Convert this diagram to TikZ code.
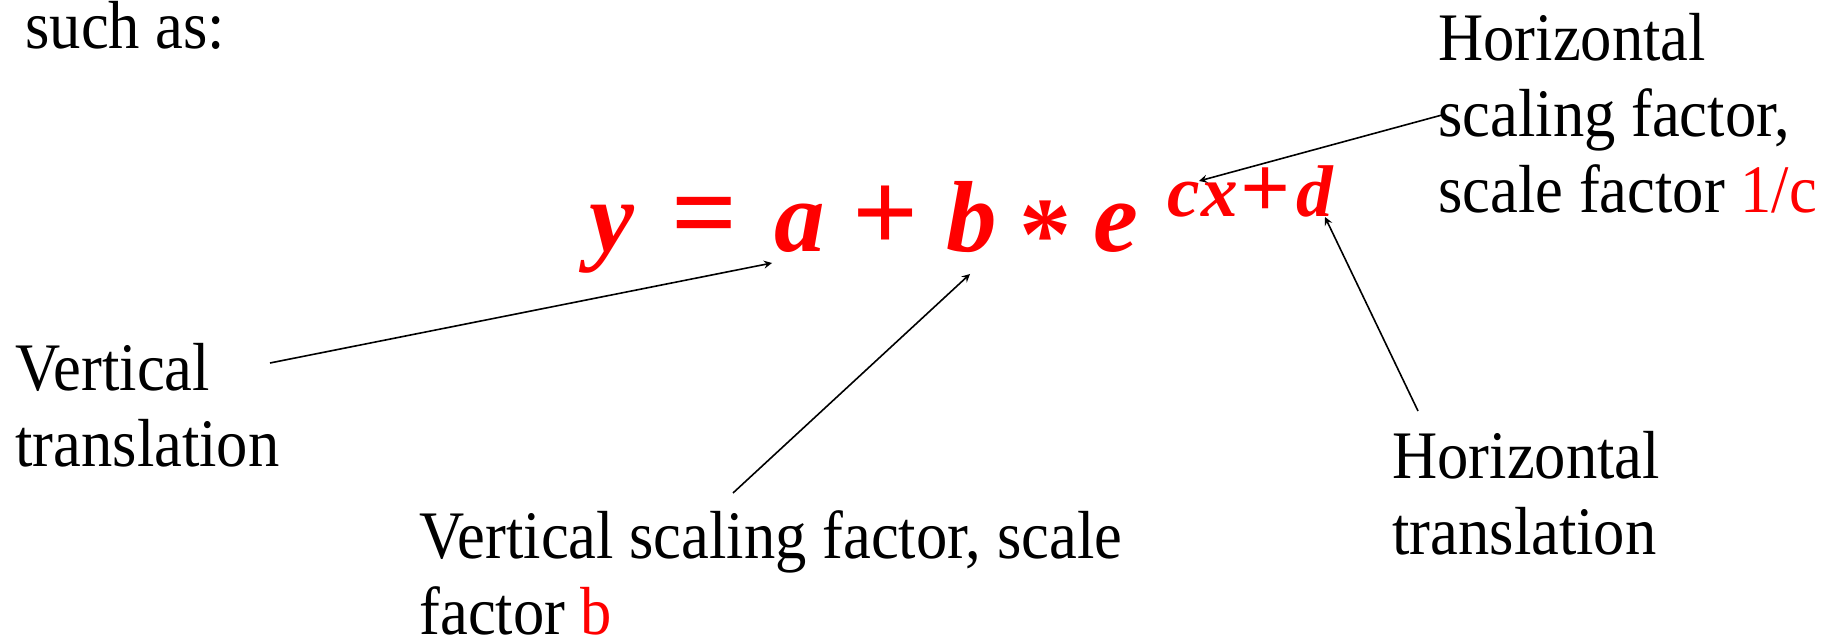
\documentclass[tikz,border=0pt]{standalone}
\usepackage{fontspec}
\setmainfont{Liberation Serif}[FakeStretch=0.92]
\newfontfamily\eqfont{Liberation Serif}
\usetikzlibrary{calc}

\tikzset{
  lbl/.style={anchor=base west,inner sep=0pt,align=left,font=\fontsize{34}{38}\selectfont},
  eqlet/.style={anchor=base,inner sep=0pt,text=red,font=\eqfont\fontsize{50.5}{50.5}\selectfont\bfseries\itshape},
  eqop/.style={anchor=base,inner sep=0pt,text=red,font=\eqfont\fontsize{58}{58}\selectfont\bfseries},
  suplet/.style={anchor=base,inner sep=0pt,text=red,font=\eqfont\fontsize{36.6}{36.6}\selectfont\bfseries\itshape},
  supop/.style={anchor=base,inner sep=0pt,text=red,font=\eqfont\fontsize{44}{44}\selectfont\bfseries},
  pointer/.style={->,>=stealth,line width=0.8pt}
}

\begin{document}
\begin{tikzpicture}[x=0.5pt,y=-0.5pt]
\useasboundingbox (0,0) rectangle (1827,640);

% equation, glyph by glyph
\node[eqlet] (eqy) at (612,252) {y};
\node[eqop] (eqeq) at (705,252) {=};
\node[eqlet] (eqa) at (800,252) {a};
\node[eqop] (eqplus) at (886,252) {+};
\node[eqlet] (eqb) at (972,252) {b};
\node[eqop,font=\eqfont\fontsize{52}{52}\selectfont\bfseries] (eqstar) at (1045,270) {*};
\node[eqlet] (eqe) at (1116,252) {e};
\node[suplet] (eqc) at (1184,217) {c};
\node[suplet] (eqx) at (1220,217) {x};
\node[supop] (eqplusb) at (1266,218) {+};
\node[suplet] (eqd) at (1315,217) {d};

% labels (base = last line)
\node[lbl] (such) at (25,49) {such as:};
\node[lbl] (vt) at (15,467) {Vertical\\translation};
\node[lbl] (vs) at (419,635) {Vertical scaling factor, scale\\factor \textcolor{red}{b}};
\node[lbl] (hs) at (1438,213) {Horizontal\\scaling factor,\\scale factor \textcolor{red}{1/c}};
\node[lbl] (ht) at (1392,555) {Horizontal\\translation};

% pointers
\draw[pointer] ($(vt.base west)+(255,-104)$) -- ($(eqa.base)+(-28,11)$);
\draw[pointer] ($(vs.base west)+(314,-142)$) -- ($(eqb.base)+(-2,22)$);
\draw[pointer] ($(hs.base west)+(4,-98)$) -- ($(eqc.base)+(15,-36)$);
\draw[pointer] ($(ht.base west)+(26,-144)$) -- ($(eqd.base)+(10,0)$);
\end{tikzpicture}
\end{document}
